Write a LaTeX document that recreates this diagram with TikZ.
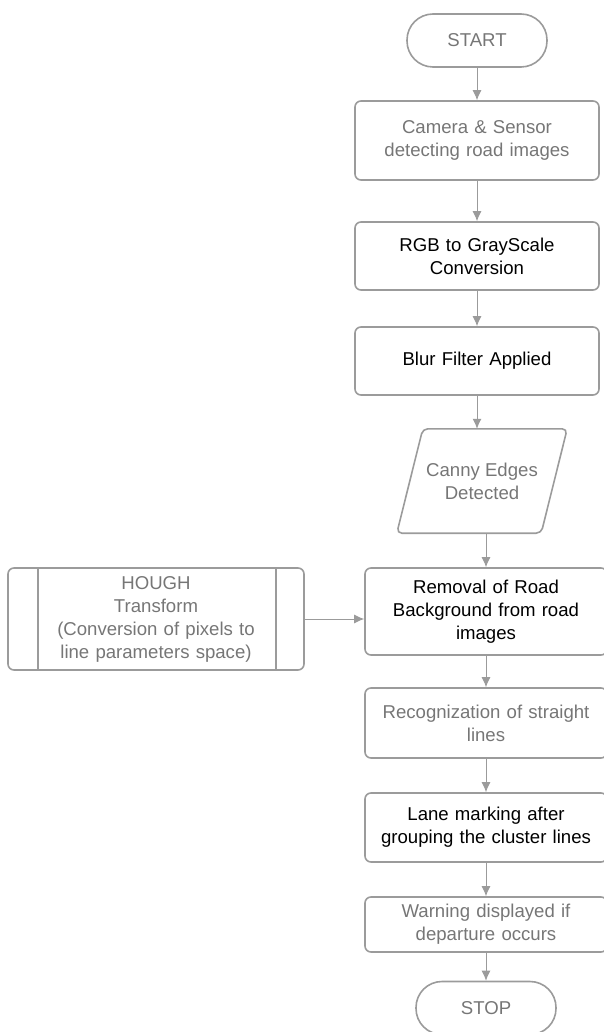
\documentclass[tikz,border=0pt]{standalone}
\usepackage{fontspec}
\setmainfont{Liberation Sans}
\usetikzlibrary{arrows.meta}
\definecolor{linegray}{RGB}{155,155,155}
\definecolor{txtgray}{RGB}{118,118,118}

\begin{document}
\begin{tikzpicture}[x=1pt,y=-1pt,
  every node/.style={font=\fontsize{18.6}{23}\selectfont, align=center, inner sep=0pt},
  term/.style={draw=linegray, line width=1.6pt, rounded corners=26pt, minimum width=140pt, minimum height=53pt, text=txtgray},
  upbox/.style={draw=linegray, line width=1.6pt, rounded corners=6pt, minimum width=244pt, text width=240pt},
  lowbox/.style={draw=linegray, line width=1.6pt, rounded corners=6pt, minimum width=242pt, text width=240pt},
  io/.style={minimum width=144pt, minimum height=104pt, text=txtgray},
  proc/.style={draw=linegray, line width=1.6pt, rounded corners=6pt, minimum width=296pt, minimum height=102pt, text width=236pt, text=txtgray},
  arr/.style={draw=linegray, line width=1pt, -{Latex[length=10pt,width=9pt]}}
]
\useasboundingbox (0,0) rectangle (603,1032);

\node[term] (start) at (477,40.5) {START};
\node[upbox, minimum height=79pt, text=txtgray] (cam) at (477,140.5) {Camera \& Sensor\\detecting road images};
\node[upbox, minimum height=68pt] (rgb) at (477,256) {RGB to GrayScale\\Conversion};
\node[upbox, minimum height=68pt] (blur) at (477,361) {Blur Filter Applied};
\node[io] (canny) at (482,481) {Canny Edges\\Detected};
\draw[linegray, line width=1.6pt, rounded corners=5pt] ([xshift=-13pt]canny.south west) -- ([xshift=13pt]canny.north west) -- ([xshift=13pt]canny.north east) -- ([xshift=-13pt]canny.south east) -- cycle;
\node[lowbox, minimum height=87pt] (rem) at (486,611.5) {Removal of Road\\Background from road\\images};
\node[lowbox, minimum height=70pt, text=txtgray] (rec) at (486,723) {Recognization of straight\\lines};
\node[lowbox, minimum height=69pt] (lane) at (486,827.5) {Lane marking after\\grouping the cluster lines};
\node[lowbox, minimum height=55pt, text=txtgray] (warn) at (486,924.5) {Warning displayed if\\departure occurs};
\node[term] (stop) at (486,1008) {STOP};

\node[proc] (hough) at (156,619) {HOUGH\\Transform\\(Conversion of pixels to\\line parameters space)};
\draw[linegray, line width=1.6pt] ([xshift=31pt]hough.north west) -- ([xshift=31pt]hough.south west);
\draw[linegray, line width=1.6pt] ([xshift=-29pt]hough.north east) -- ([xshift=-29pt]hough.south east);

\draw[arr] (start) -- (cam);
\draw[arr] (cam) -- (rgb);
\draw[arr] (rgb) -- (blur);
\draw[arr] (blur) -- (blur |- canny.north);
\draw[arr] (rem |- canny.south) -- (rem);
\draw[arr] (hough) -- (hough -| rem.west);
\draw[arr] (rem) -- (rec);
\draw[arr] (rec) -- (lane);
\draw[arr] (lane) -- (warn);
\draw[arr] (warn) -- (stop);
\end{tikzpicture}
\end{document}
